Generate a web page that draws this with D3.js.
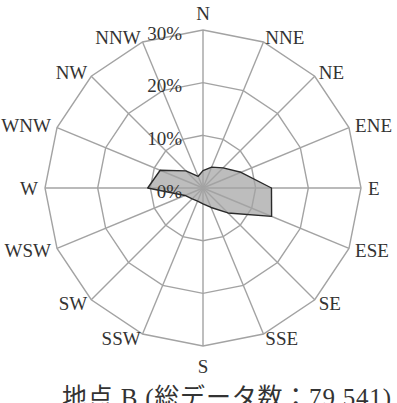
<!DOCTYPE html>
<html>
<head>
<meta charset="utf-8">
<script src="https://cdn.jsdelivr.net/npm/d3@7"></script>
<style>
  body { margin: 0; background: #fff; }
  text { font-family: "Liberation Serif", "Noto Sans CJK JP", serif; fill: #333; }
</style>
</head>
<body>
<div class="chart"></div>
<script>
// wind rose, site B. 16 directions, % of all records

var svgWidth = 397;
var svgHeight = 403;

var center = { x: 203, y: 188 };
var outerRadius = 158;

// data
var directions = ["N", "NNE", "NE", "ENE", "E", "ESE", "SE", "SSE",
  "S", "SSW", "SW", "WSW", "W", "WNW", "NW", "NNW"];
var frequency = [3.3, 4.3, 5.4, 7.8, 13.0, 14.1, 6.7, 4.0,
  3.0, 2.7, 2.9, 3.7, 10.5, 8.8, 4.6, 2.4];
var ringTicks = [0, 10, 20, 30];
var title = "地点 B (総データ数：79,541)";

var svg = d3.select(".chart")
  .append("svg")
  .attr("width", svgWidth)
  .attr("height", svgHeight);

var chartGroup = svg.append("g")
  .attr("transform", `translate(${center.x}, ${center.y})`);

var rScale = d3.scaleLinear()
  .domain([0, 30])
  .range([0, outerRadius]);

// angle in radians, N = 0, going clockwise
var aScale = d3.scalePoint()
  .domain(directions)
  .range([0, 2 * Math.PI * (directions.length - 1) / directions.length]);

function px(dir, r) { return r * Math.sin(aScale(dir)); }
function py(dir, r) { return -r * Math.cos(aScale(dir)); }

var closedLine = d3.line().curve(d3.curveLinearClosed);

// filled polygon first so the grid shows over it
var shape = directions.map((d, i) => [px(d, rScale(frequency[i])), py(d, rScale(frequency[i]))]);

chartGroup.append("path")
  .attr("d", closedLine(shape))
  .attr("fill", "#bdbdbd")
  .attr("stroke", "none");

// rings
chartGroup.selectAll(".ring")
  .data(ringTicks.filter(t => t > 0))
  .enter()
  .append("path")
  .attr("class", "ring")
  .attr("d", t => closedLine(directions.map(d => [px(d, rScale(t)), py(d, rScale(t))])))
  .attr("fill", "none")
  .attr("stroke", "#a3a3a3")
  .attr("stroke-width", 1.4);

// spokes
chartGroup.selectAll(".spoke")
  .data(directions)
  .enter()
  .append("line")
  .attr("class", "spoke")
  .attr("x1", 0)
  .attr("y1", 0)
  .attr("x2", d => px(d, outerRadius))
  .attr("y2", d => py(d, outerRadius))
  .attr("stroke", "#a3a3a3")
  .attr("stroke-width", 1.4);

// outline of the data on top
chartGroup.append("path")
  .attr("d", closedLine(shape))
  .attr("fill", "none")
  .attr("stroke", "#2a2a2a")
  .attr("stroke-width", 1.4)
  .attr("stroke-linejoin", "round");

// ring labels, right aligned just left of the N spoke
chartGroup.selectAll(".ring-label")
  .data(ringTicks)
  .enter()
  .append("text")
  .attr("class", "ring-label")
  .attr("x", -21)
  .attr("y", t => -rScale(t) + 3)
  .attr("dy", "0.35em")
  .attr("text-anchor", "end")
  .attr("font-size", 19)
  .text(t => t + "%");

// direction labels
chartGroup.selectAll(".dir-label")
  .data(directions)
  .enter()
  .append("text")
  .attr("class", "dir-label")
  .attr("x", d => {
    var s = Math.sin(aScale(d));
    var vx = px(d, outerRadius);
    if (Math.abs(s) < 0.01) return vx;
    return vx + Math.sign(s) * (1 + 6 * s * s);
  })
  .attr("y", d => {
    var c = Math.cos(aScale(d));
    var vy = py(d, outerRadius);
    if (c > 0.99) return vy - 17;
    if (c < -0.99) return vy + 20;
    return vy - 5 * c;
  })
  .attr("dy", "0.35em")
  .attr("text-anchor", d => {
    var s = Math.sin(aScale(d));
    if (Math.abs(s) < 0.01) return "middle";
    return s > 0 ? "start" : "end";
  })
  .attr("font-size", 19)
  .text(d => d);

// caption, gets cut by the bottom edge like the original
svg.append("text")
  .attr("x", 62)
  .attr("y", 406)
  .attr("font-size", 25)
  .attr("letter-spacing", 0.8)
  .text(title);
</script>
</body>
</html>
